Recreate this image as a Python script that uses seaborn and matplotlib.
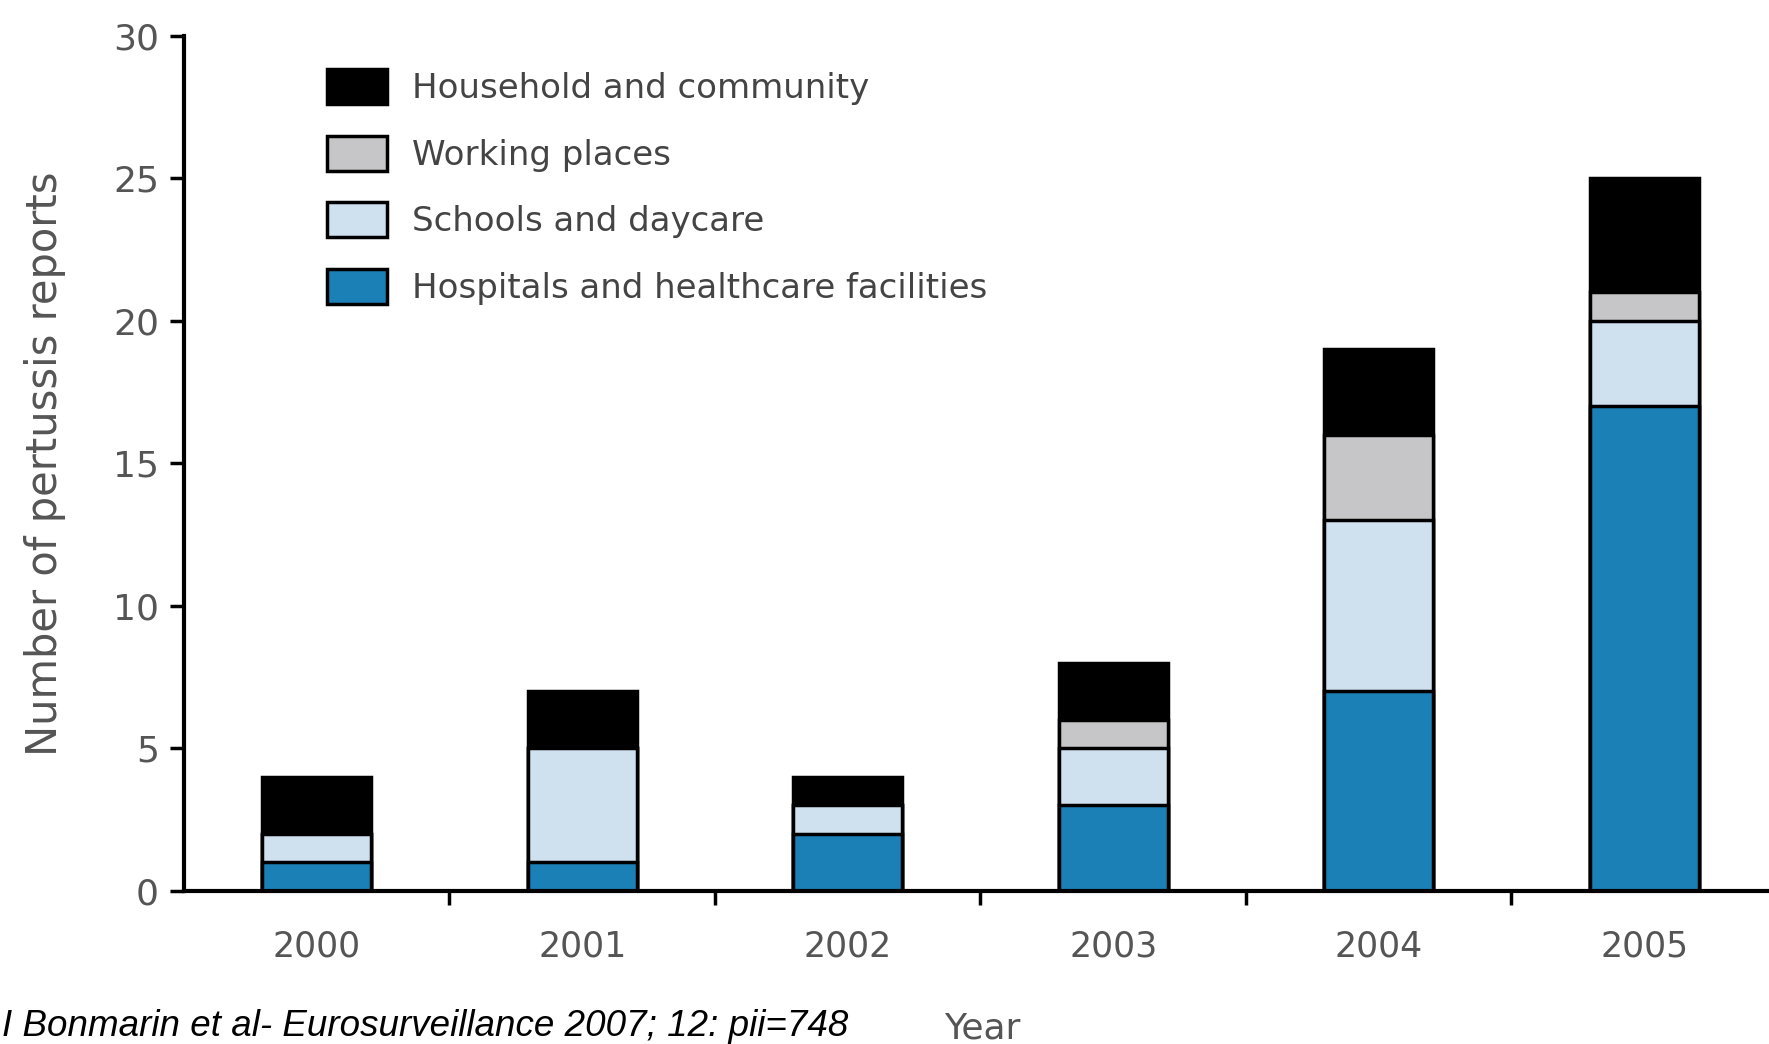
import matplotlib
matplotlib.use("Agg")
import matplotlib.pyplot as plt
from matplotlib.patches import Patch
import seaborn as sns
import pandas as pd
import numpy as np

years = ["2000", "2001", "2002", "2003", "2004", "2005"]
hospitals = [1, 1, 2, 3, 7, 17]
schools = [1, 4, 1, 2, 6, 3]
working = [0, 0, 0, 1, 3, 1]
household = [2, 2, 1, 2, 3, 4]

series_names = ["Hospitals and healthcare facilities", "Schools and daycare",
                "Working places", "Household and community"]
series_vals = [hospitals, schools, working, household]
colors = ["#1b80b6", "#cfe0ee", "#c6c6c8", "#000000"]

sns.set_theme(style="white")
plt.rcParams['font.family'] = ['DejaVu Sans']

fig = plt.figure(figsize=(17.69, 10.44), dpi=100)
ax = fig.add_axes([0.104, 0.1466, 0.896, 0.819])

cum = np.cumsum(np.array(series_vals), axis=0)
# draw top-most cumulative first
for i in range(len(series_names) - 1, -1, -1):
    df = pd.DataFrame({"year": years, "value": cum[i]})
    sns.barplot(data=df, x="year", y="value", color=colors[i], width=0.41,
                edgecolor="black", linewidth=2.5, ax=ax, saturation=1)

ax.set_ylim(0, 30)
ax.set_xlim(-0.5, 5.47)
ax.set_yticks([0, 5, 10, 15, 20, 25, 30])
ax.set_xticks(np.arange(0.5, 5.0, 1.0), minor=True)
ax.set_xticks(np.arange(6))
ax.set_xticklabels(years)
ax.tick_params(axis='x', which='major', length=0, pad=28, labelsize=25, labelcolor="#555555")
ax.tick_params(axis='x', which='minor', length=10, width=2.5, color='black', direction='out', bottom=True)
ax.tick_params(axis='y', length=10, width=2.5, color='black', direction='out', left=True,
               labelsize=26, labelcolor="#555555", pad=8)

for s in ["top", "right"]:
    ax.spines[s].set_visible(False)
for s in ["left", "bottom"]:
    ax.spines[s].set_color("black")
    ax.spines[s].set_linewidth(3)

ax.set_xlabel("")
ax.set_ylabel("Number of pertussis reports", fontsize=30, color="#555555", labelpad=34)

handles = [Patch(facecolor=colors[i], edgecolor="black", linewidth=2.5, label=series_names[i])
           for i in range(len(series_names) - 1, -1, -1)]
leg = ax.legend(handles=handles, loc="upper left", bbox_to_anchor=(0.071, 0.997), frameon=False,
                handlelength=1.75, handleheight=1.2, labelspacing=0.9, handletextpad=0.75,
                prop={'family': ['DejaVu Sans Condensed', 'DejaVu Sans'], 'size': 24.5})
for t in leg.get_texts():
    t.set_color("#444444")

fig.text(0.555, 0.005, "Year", fontsize=26, color="#555555", ha="center", va="baseline",
         family=['DejaVu Sans Condensed', 'DejaVu Sans'])
fig.text(0.001, 0.008, "I Bonmarin et al- Eurosurveillance 2007; 12: pii=748", fontsize=26.5,
         style="italic", color="black", ha="left", va="baseline",
         family=['Liberation Sans', 'DejaVu Sans'])

fig.savefig("out.png", dpi=100)
